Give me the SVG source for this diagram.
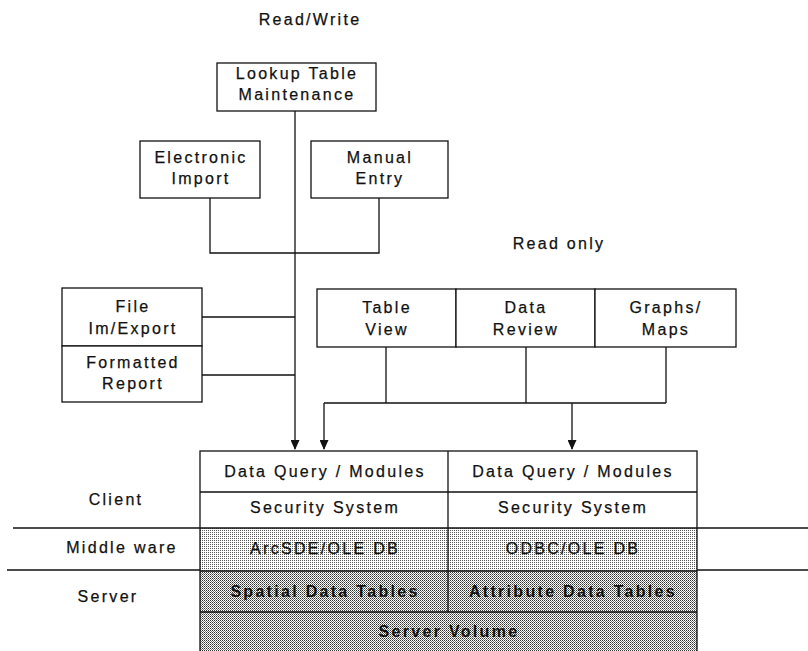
<svg xmlns="http://www.w3.org/2000/svg" width="808" height="651" viewBox="0 0 808 651">
<defs>
<style>
text{font-family:"Liberation Sans",Arial,sans-serif;font-size:16px;letter-spacing:2.3px;fill:#111;text-anchor:middle;stroke:#111;stroke-width:0.25}
.b{font-weight:bold;stroke-width:0}
.box{fill:#fff;stroke:#111;stroke-width:1.3}
.ln{fill:none;stroke:#111;stroke-width:1.3}
</style>
<pattern id="light" width="2" height="2" patternUnits="userSpaceOnUse">
<rect width="2" height="2" fill="#fff"/>
<rect width="1" height="1" fill="#555"/>
</pattern>
<pattern id="dark" width="2" height="2" patternUnits="userSpaceOnUse">
<rect width="2" height="2" fill="#fff"/>
<rect width="1" height="1" fill="#333"/>
<rect x="1" y="1" width="1" height="1" fill="#777"/>
</pattern>
<marker id="arr" markerWidth="10" markerHeight="9" refX="9" refY="4.5" orient="auto" markerUnits="userSpaceOnUse">
<path d="M0,0 L10,4.5 L0,9 Z" fill="#111"/>
</marker>
</defs>
<rect width="808" height="651" fill="#fff"/>

<text x="310" y="25">Read/Write</text>
<text x="559" y="249">Read only</text>

<g id="connectors">
<path class="ln" d="M295,111 V449" marker-end="url(#arr)"/>
<path class="ln" d="M210,198 V253 H379 V198"/>
<path class="ln" d="M202,317 H295 M202,375 H295"/>
<path class="ln" d="M386,347 V403 M526,347 V403 M666,347 V403 M324,403 H666"/>
<path class="ln" d="M324,403 V449" marker-end="url(#arr)"/>
<path class="ln" d="M572,403 V449" marker-end="url(#arr)"/>
<path class="ln" d="M13,528 H200 M7,570 H200 M697,528 H808 M697,570 H808"/>
</g>

<g id="lookup">
<rect class="box" x="217" y="63" width="159" height="48"/>
<text x="297" y="79">Lookup Table</text>
<text x="297" y="100">Maintenance</text>
</g>
<g id="electronic">
<rect class="box" x="140" y="141" width="120" height="57"/>
<text x="201" y="163">Electronic</text>
<text x="201" y="184">Import</text>
</g>
<g id="manual">
<rect class="box" x="311" y="141" width="137" height="57"/>
<text x="380" y="163">Manual</text>
<text x="380" y="184">Entry</text>
</g>
<g id="file">
<rect class="box" x="62" y="288" width="140" height="58"/>
<text x="133" y="312">File</text>
<text x="133" y="334">Im/Export</text>
</g>
<g id="report">
<rect class="box" x="62" y="346" width="140" height="56"/>
<text x="133" y="368">Formatted</text>
<text x="133" y="389">Report</text>
</g>
<g id="tableview">
<rect class="box" x="317" y="289" width="139" height="58"/>
<text x="387" y="313">Table</text>
<text x="387" y="335">View</text>
</g>
<g id="datareview">
<rect class="box" x="456" y="289" width="139" height="58"/>
<text x="526" y="313">Data</text>
<text x="526" y="335">Review</text>
</g>
<g id="graphs">
<rect class="box" x="595" y="289" width="141" height="58"/>
<text x="666" y="313">Graphs/</text>
<text x="666" y="335">Maps</text>
</g>

<g id="labels">
<text x="116" y="505">Client</text>
<text x="122" y="553">Middle ware</text>
<text x="108" y="602">Server</text>
</g>

<g id="stack">
<rect x="200" y="528" width="497" height="43" fill="url(#light)"/>
<rect x="200" y="571" width="497" height="80" fill="url(#dark)"/>
<rect class="ln" x="200" y="451" width="497" height="210"/>
<path class="ln" d="M448,451 V612 M200,492 H697 M200,528 H697 M200,571 H697 M200,612 H697"/>
</g>
<g id="dq1"><text x="325" y="477">Data Query / Modules</text></g>
<g id="sec1"><text x="325" y="513">Security System</text></g>
<g id="dq2"><text x="573" y="477">Data Query / Modules</text></g>
<g id="sec2"><text x="573" y="513">Security System</text></g>
<g id="arcsde"><text x="325" y="554">ArcSDE/OLE DB</text></g>
<g id="odbc"><text x="573" y="554">ODBC/OLE DB</text></g>
<g id="spatial"><text class="b" x="325" y="597">Spatial Data Tables</text></g>
<g id="attr"><text class="b" x="573" y="597">Attribute Data Tables</text></g>
<g id="volume"><text class="b" x="449" y="637">Server Volume</text></g>
</svg>
